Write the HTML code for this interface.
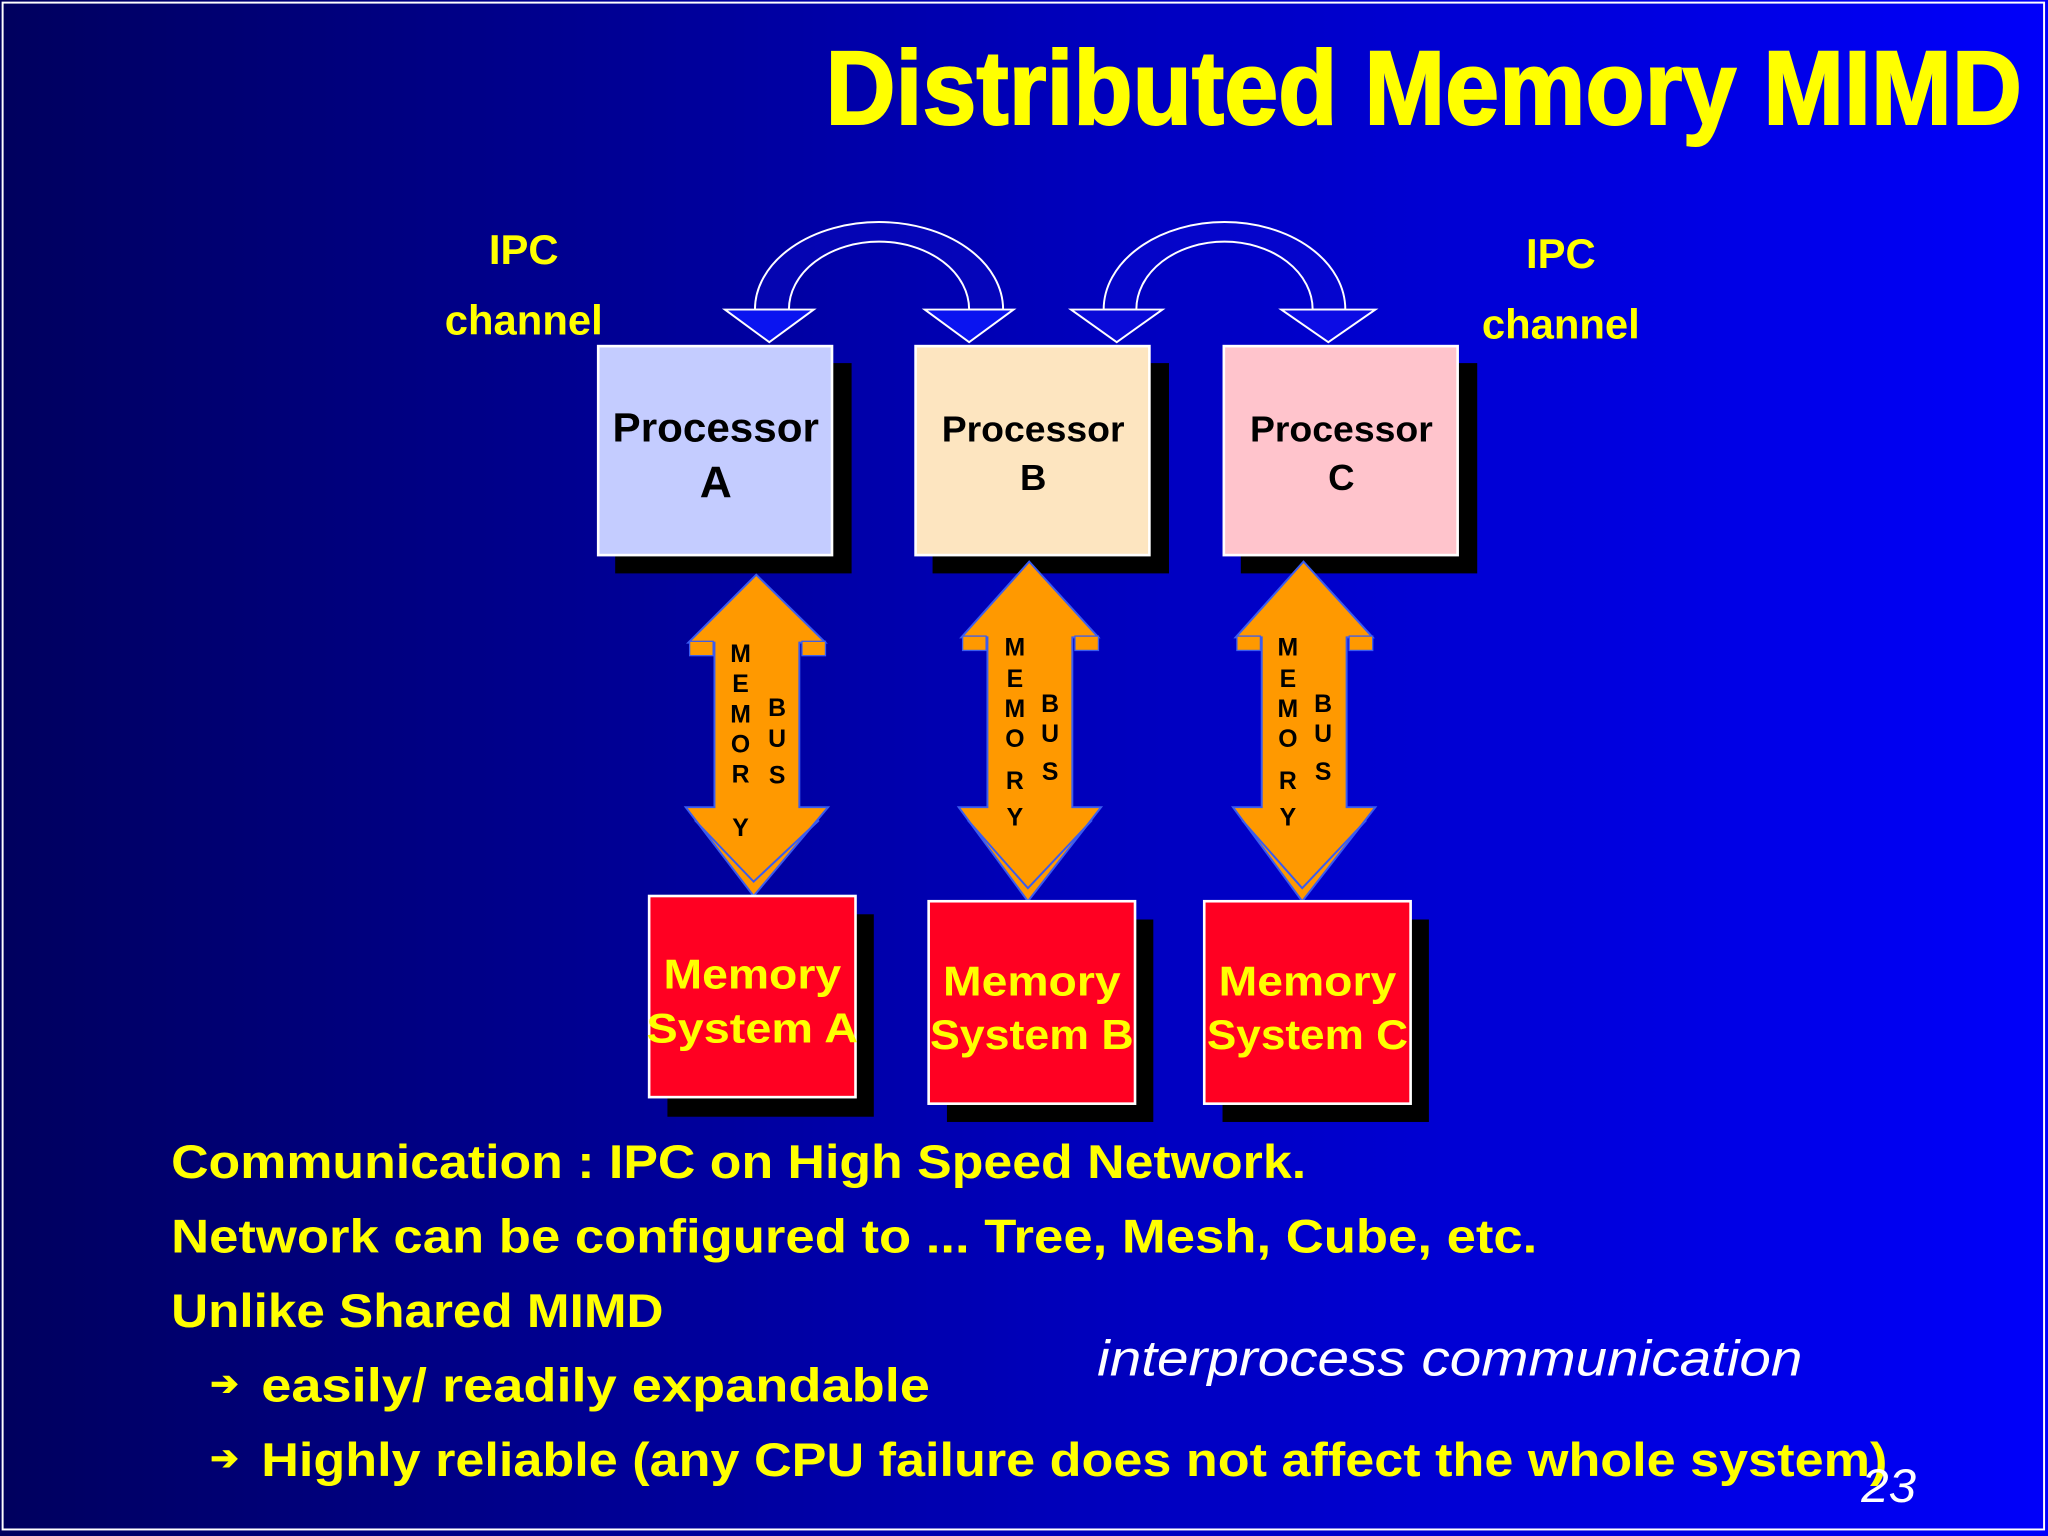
<!DOCTYPE html>
<html><head><meta charset="utf-8"><style>
html,body{margin:0;padding:0;width:2048px;height:1536px;overflow:hidden;background:#000080}
svg{display:block}
text{font-family:"Liberation Sans",sans-serif}
</style></head><body>
<svg width="2048" height="1536" viewBox="0 0 1568 1176" xmlns="http://www.w3.org/2000/svg">
<defs>
<linearGradient id="bg" x1="0" y1="0" x2="1" y2="0">
<stop offset="0" stop-color="#00005e"/>
<stop offset="0.5" stop-color="#0000b8"/>
<stop offset="1" stop-color="#0000fa"/>
</linearGradient>
</defs>
<rect x="0" y="0" width="1568" height="1176" fill="url(#bg)"/>
<rect x="2" y="2" width="1563" height="1169" fill="none" stroke="#ffffff" stroke-width="1.5"/>

<text x="632" y="95" font-size="80" font-weight="bold" fill="#ffff00" stroke="#ffff00" stroke-width="1.5" textLength="916" lengthAdjust="spacingAndGlyphs">Distributed Memory MIMD</text>

<g font-weight="bold" fill="#ffff00" font-size="32" text-anchor="middle">
<text x="401" y="202">IPC</text>
<text x="401" y="256">channel</text>
<text x="1195" y="205">IPC</text>
<text x="1195" y="259">channel</text>
</g>

<!-- IPC arcs -->
<path d="M578,237 A95,67 0 0 1 768,237 L742,237 A69,52 0 0 0 604,237 Z" fill="#0a0ac0" fill-opacity="0.5" stroke="#fff" stroke-width="1.5"/>
<path d="M845,237 A92.5,67 0 0 1 1030,237 L1005,237 A67.5,52 0 0 0 870,237 Z" fill="#0a0ad0" fill-opacity="0.5" stroke="#fff" stroke-width="1.5"/>
<g stroke="#fff" stroke-width="1.5">
<polygon points="555,237 623,237 589,262" fill="#0a14f0"/>
<polygon points="708,237 776,237 742,262" fill="#0a14f0"/>
<polygon points="820,237 890,237 855,262" fill="#0a0ad8"/>
<polygon points="981,237 1053,237 1017,262" fill="#0c0ce4"/>
</g>

<!-- Processors -->
<rect x="471" y="278" width="181" height="161" fill="#000"/>
<rect x="458" y="265" width="179" height="160" fill="#c4ccff" stroke="#fff" stroke-width="2"/>
<rect x="714" y="278" width="181" height="161" fill="#000"/>
<rect x="701" y="265" width="179" height="160" fill="#fde5c0" stroke="#fff" stroke-width="2"/>
<rect x="950" y="278" width="181" height="161" fill="#000"/>
<rect x="937" y="265" width="179" height="160" fill="#ffc4cc" stroke="#fff" stroke-width="2"/>
<g font-weight="bold" fill="#000" text-anchor="middle">
<text x="548" y="338" font-size="31" textLength="158" lengthAdjust="spacingAndGlyphs">Processor</text>
<text x="548" y="381" font-size="34">A</text>
<text x="791" y="338" font-size="28" textLength="140" lengthAdjust="spacingAndGlyphs">Processor</text>
<text x="791" y="375" font-size="28">B</text>
<text x="1027" y="338" font-size="28" textLength="140" lengthAdjust="spacingAndGlyphs">Processor</text>
<text x="1027" y="375" font-size="28">C</text>
</g>

<!-- Memory bus arrows -->
<g>
<polygon points="579,440 632,492 612,492 612,618 634,618 577,686 525,618 547,618 547,492 527,492" fill="#ff9900" stroke="#3a5cf0" stroke-width="1.5"/>
<rect x="528" y="491" width="18" height="11" fill="#ff9900" stroke="#3a5cf0" stroke-width="1"/>
<rect x="614" y="491" width="18" height="11" fill="#ff9900" stroke="#3a5cf0" stroke-width="1"/>
<polyline points="532,628 577,675 627,628" fill="none" stroke="#3a5cf0" stroke-width="1.5"/>
</g>
<g>
<polygon points="788,430 841,488 821,488 821,618 843,618 787,690 734,618 756,618 756,488 736,488" fill="#ff9900" stroke="#3a5cf0" stroke-width="1.5"/>
<rect x="737" y="487" width="18" height="11" fill="#ff9900" stroke="#3a5cf0" stroke-width="1"/>
<rect x="823" y="487" width="18" height="11" fill="#ff9900" stroke="#3a5cf0" stroke-width="1"/>
<polyline points="741,628 787,680 836,628" fill="none" stroke="#3a5cf0" stroke-width="1.5"/>
</g>
<g>
<polygon points="998,430 1051,488 1031,488 1031,618 1053,618 997,690 944,618 966,618 966,488 946,488" fill="#ff9900" stroke="#3a5cf0" stroke-width="1.5"/>
<rect x="947" y="487" width="18" height="11" fill="#ff9900" stroke="#3a5cf0" stroke-width="1"/>
<rect x="1033" y="487" width="18" height="11" fill="#ff9900" stroke="#3a5cf0" stroke-width="1"/>
<polyline points="951,628 997,680 1046,628" fill="none" stroke="#3a5cf0" stroke-width="1.5"/>
</g>
<g font-weight="bold" fill="#000" font-size="19" text-anchor="middle">
<text x="567" y="507">M</text><text x="567" y="530">E</text><text x="567" y="553">M</text><text x="567" y="576">O</text><text x="567" y="599">R</text><text x="567" y="640">Y</text>
<text x="595" y="548">B</text><text x="595" y="572">U</text><text x="595" y="600">S</text>
<text x="777" y="502">M</text><text x="777" y="526">E</text><text x="777" y="549">M</text><text x="777" y="572">O</text><text x="777" y="604">R</text><text x="777" y="632">Y</text>
<text x="804" y="545">B</text><text x="804" y="568">U</text><text x="804" y="597">S</text>
<text x="986" y="502">M</text><text x="986" y="526">E</text><text x="986" y="549">M</text><text x="986" y="572">O</text><text x="986" y="604">R</text><text x="986" y="632">Y</text>
<text x="1013" y="545">B</text><text x="1013" y="568">U</text><text x="1013" y="597">S</text>
</g>

<!-- Memory systems -->
<rect x="511" y="700" width="158" height="155" fill="#000"/>
<rect x="497" y="686" width="158" height="154" fill="#ff0022" stroke="#fff" stroke-width="2"/>
<rect x="725" y="704" width="158" height="155" fill="#000"/>
<rect x="711" y="690" width="158" height="155" fill="#ff0022" stroke="#fff" stroke-width="2"/>
<rect x="936" y="704" width="158" height="155" fill="#000"/>
<rect x="922" y="690" width="158" height="155" fill="#ff0022" stroke="#fff" stroke-width="2"/>
<g font-weight="bold" fill="#ffff00" font-size="32" text-anchor="middle">
<text x="576" y="757" textLength="136" lengthAdjust="spacingAndGlyphs">Memory</text>
<text x="576" y="798" textLength="162" lengthAdjust="spacingAndGlyphs">System  A</text>
<text x="790" y="762" textLength="136" lengthAdjust="spacingAndGlyphs">Memory</text>
<text x="790" y="803" textLength="156" lengthAdjust="spacingAndGlyphs">System  B</text>
<text x="1001" y="762" textLength="136" lengthAdjust="spacingAndGlyphs">Memory</text>
<text x="1001" y="803" textLength="154" lengthAdjust="spacingAndGlyphs">System C</text>
</g>

<!-- Bottom text -->
<g font-weight="bold" fill="#ffff00" font-size="36">
<text x="131" y="902" textLength="869" lengthAdjust="spacingAndGlyphs">Communication : IPC on High Speed Network.</text>
<text x="131" y="959" textLength="1046" lengthAdjust="spacingAndGlyphs">Network can be configured to ... Tree, Mesh, Cube, etc.</text>
<text x="131" y="1016" textLength="377" lengthAdjust="spacingAndGlyphs">Unlike Shared MIMD</text>
<text x="161" y="1068" font-size="26">➔</text>
<text x="200" y="1073" textLength="512" lengthAdjust="spacingAndGlyphs">easily/ readily expandable</text>
<text x="161" y="1125" font-size="26">➔</text>
<text x="200" y="1130" textLength="1245" lengthAdjust="spacingAndGlyphs">Highly reliable (any CPU  failure does not affect the whole system)</text>
</g>
<text x="840" y="1053" font-size="38" font-style="italic" fill="#ffffff" textLength="540" lengthAdjust="spacingAndGlyphs">interprocess communication</text>
<text x="1425" y="1150" font-size="36" font-style="italic" fill="#ffffff" textLength="42" lengthAdjust="spacingAndGlyphs">23</text>
</svg>
</body></html>
